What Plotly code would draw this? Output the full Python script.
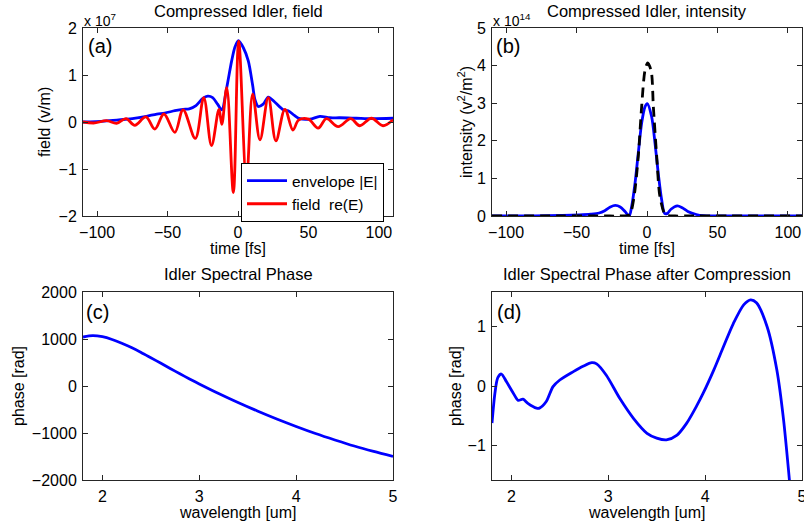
import plotly.graph_objects as go

# ---------------- data ----------------
# (a) field, units of 1e7 V/m
t_env = [-110, -95, -86, -75, -65, -57.6, -52, -44.8, -39, -34.6, -29.8, -25, -21.5, -18, -14.5,
         -11.5, -8, -4.5, -2.1, 0.3, 3.8, 7.3, 10.4, 12, 14.4, 17.9, 21.5, 26.2, 32.1, 35.6, 40,
         43.9, 51, 58.1, 65.2, 72.2, 84, 95.8, 110]
env = [0.0, 0.02, 0.04, 0.07, 0.12, 0.17, 0.19, 0.24, 0.27, 0.28, 0.35, 0.50, 0.55, 0.52, 0.38,
       0.26, 0.73, 1.30, 1.60, 1.73, 1.58, 1.30, 0.78, 0.48, 0.33, 0.38, 0.53, 0.42, 0.26, 0.24, 0.14,
       0.07, 0.06, 0.12, 0.09, 0.09, 0.08, 0.07, 0.08]

t_field = [-110, -101.6, -93.3, -86.2, -79.5, -73.2, -65.4, -59.0, -52.6, -44.8, -39.0, -30.3,
           -24.3, -18.8, -13.5, -11.5, -8.0, -3.3, 0.5, 6.0, 10.4, 15.6, 21.5, 26.9, 33.3, 39.0,
           43, 50, 56.9, 62.8, 71.1, 80.0, 86.4, 94.7, 102.9, 110]
field = [0.0, -0.02, 0.03, -0.03, 0.07, -0.07, 0.11, -0.15, 0.17, -0.22, 0.26, -0.35,
         0.52, -0.50, 0.27, -0.05, 0.73, -1.50, 1.72, -1.25, 0.59, -0.38, 0.52, -0.40, 0.27, -0.17,
         0.04, 0.06, -0.13, 0.07, -0.10, 0.07, -0.08, 0.08, -0.08, 0.05]

# (b) intensity, units of 1e14 V^2/m^2
t_int = [-110, -80, -60, -48, -40, -34, -30, -26, -22.5, -19, -15.6, -12.6, -10.9, -8.5, -6.2,
         -3.8, -1.4, 0.2, 3.3, 5.7, 8.0, 10.4, 12.5, 14.5, 17, 21.5, 25, 29, 35, 40, 50, 70, 110]
int_meas = [0.0, 0.005, 0.015, 0.03, 0.05, 0.08, 0.14, 0.24, 0.28, 0.24, 0.12, 0.0, 0.25, 0.87, 1.67,
            2.47, 2.91, 2.99, 2.64, 1.93, 1.13, 0.43, 0.07, 0.07, 0.18, 0.27, 0.22, 0.12, 0.04, 0.01,
            0.005, 0.0, 0.0]
t_tl = [-110, -60, -30, -20, -14, -12, -9.2, -6.2, -3.8, -1.4, 0.5, 3.0, 4.5, 6.9, 9.2, 12.8, 15,
        20, 30, 60, 110]
int_tl = [0, 0, 0, 0, 0.01, 0.05, 0.51, 1.58, 2.91, 3.88, 4.07, 3.85, 2.91, 1.58, 0.51, 0.04, 0.01,
          0, 0, 0, 0]

# (c) spectral phase, rad
wl_c = [1.8, 1.9, 2.0, 2.1, 2.2, 2.3, 2.4, 2.5, 2.6, 2.7, 2.8, 2.9, 3.0, 3.2, 3.4, 3.6, 3.8, 4.0,
        4.2, 4.4, 4.6, 4.8, 5.0]
phase_c = [1042, 1072, 1048, 990, 910, 818, 714, 602, 488, 373, 260, 150, 45, -159, -351, -531,
           -701, -861, -1011, -1148, -1277, -1393, -1500]

# (d) spectral phase after compression, rad
wl_d = [1.8, 1.83, 1.86, 1.897, 1.95, 2.02, 2.07, 2.12, 2.17, 2.26, 2.29, 2.36, 2.43, 2.5, 2.64,
        2.74, 2.83, 2.88, 2.98, 3.12, 3.26, 3.40, 3.5, 3.6, 3.71, 3.81, 3.91, 3.98, 4.09, 4.19,
        4.29, 4.4, 4.47, 4.53, 4.64, 4.74, 4.81, 4.87, 4.9]
phase_d = [-0.62, -0.12, 0.14, 0.20, 0.07, -0.12, -0.24, -0.22, -0.29, -0.37, -0.37, -0.26, -0.01,
           0.10, 0.24, 0.33, 0.39, 0.37, 0.18, -0.21, -0.54, -0.79, -0.87, -0.90, -0.82, -0.62,
           -0.34, -0.12, 0.27, 0.66, 1.04, 1.36, 1.44, 1.39, 0.99, 0.27, -0.57, -1.57, -2.1]

time_ticks = [-100, -50, 0, 50, 100]
wl_ticks = [2, 3, 4, 5]

# ---------------- figure ----------------
W, H = 804, 527
FONT = "Liberation Sans, Arial, Helvetica, sans-serif"
BLUE = "#0000FF"
RED = "#FF0000"
AX = "#262626"


def px_x(p):
    return p / W


def px_y(p):
    return 1 - p / H


xl = [px_x(83), px_x(393)]
xr = [px_x(492), px_x(802)]
yt = [px_y(216), px_y(28)]
yb = [px_y(480), px_y(292)]

fig = go.Figure()

fig.add_trace(go.Scatter(x=t_env, y=env, mode="lines", name="envelope |E|",
                         line=dict(color=BLUE, width=2.8, shape="spline", smoothing=0.8),
                         xaxis="x", yaxis="y"))
fig.add_trace(go.Scatter(x=t_field, y=field, mode="lines", name="field\u00a0 re(E)",
                         line=dict(color=RED, width=2.8, shape="spline", smoothing=1.0),
                         xaxis="x", yaxis="y"))
fig.add_trace(go.Scatter(x=t_int, y=int_meas, mode="lines", showlegend=False,
                         line=dict(color=BLUE, width=2.8, shape="spline", smoothing=0.8),
                         xaxis="x2", yaxis="y2"))
fig.add_trace(go.Scatter(x=t_tl, y=int_tl, mode="lines", showlegend=False,
                         line=dict(color="black", width=2.8, dash="10px,6px", shape="spline", smoothing=0.8),
                         xaxis="x2", yaxis="y2"))
fig.add_trace(go.Scatter(x=wl_c, y=phase_c, mode="lines", showlegend=False,
                         line=dict(color=BLUE, width=2.8, shape="spline", smoothing=0.8),
                         xaxis="x3", yaxis="y3"))
fig.add_trace(go.Scatter(x=wl_d, y=phase_d, mode="lines", showlegend=False,
                         line=dict(color=BLUE, width=2.8, shape="spline", smoothing=0.8),
                         xaxis="x4", yaxis="y4"))

axbase = dict(showline=True, linecolor=AX, linewidth=1, mirror="ticks", ticks="inside",
              ticklen=5, tickcolor=AX, tickwidth=1, showgrid=False, zeroline=False,
              tickfont=dict(family=FONT, size=16, color="black"), automargin=False,
              ticklabelstandoff=2)

fig.update_layout(
    width=W, height=H,
    margin=dict(l=0, r=0, t=0, b=0),
    paper_bgcolor="white", plot_bgcolor="white",
    font=dict(family=FONT, size=16, color="black"),
    showlegend=True,
    legend=dict(x=px_x(241), y=px_y(163), xanchor="left", yanchor="top",
                bordercolor="black", borderwidth=1, bgcolor="white", itemwidth=40,
                font=dict(family=FONT, size=15.5, color="black"), tracegroupgap=0),
    xaxis=dict(axbase, domain=xl, anchor="y", range=[-110, 110], tickvals=time_ticks),
    yaxis=dict(axbase, domain=yt, anchor="x", range=[-2, 2], tickvals=[-2, -1, 0, 1, 2]),
    xaxis2=dict(axbase, domain=xr, anchor="y2", range=[-110, 110], tickvals=time_ticks,
                ticklabeloverflow="allow"),
    yaxis2=dict(axbase, domain=yt, anchor="x2", range=[0, 5], tickvals=[0, 1, 2, 3, 4, 5]),
    xaxis3=dict(axbase, domain=xl, anchor="y3", range=[1.8, 5], tickvals=wl_ticks),
    yaxis3=dict(axbase, domain=yb, anchor="x3", range=[-2000, 2000],
                tickvals=[-2000, -1000, 0, 1000, 2000]),
    xaxis4=dict(axbase, domain=xr, anchor="y4", range=[1.8, 5], tickvals=wl_ticks,
                ticklabeloverflow="allow"),
    yaxis4=dict(axbase, domain=yb, anchor="x4", range=[-1.5708, 1.5708], tickvals=[-1, 0, 1]),
)

ann = []


def text(x, y, s, size=16, xanchor="center", yanchor="middle", angle=0):
    ann.append(dict(x=px_x(x), y=px_y(y), xref="paper", yref="paper", text=s, showarrow=False,
                    xanchor=xanchor, yanchor=yanchor, textangle=angle,
                    font=dict(family=FONT, size=size, color="black")))


# titles
text(238, 11, "Compressed Idler, field", size=16.5)
text(647, 11, "Compressed Idler, intensity", size=16.5)
text(238, 274, "Idler Spectral Phase", size=16.5)
text(647, 274, "Idler Spectral Phase after Compression", size=16.5)
# axis titles
text(238, 248, "time [fs]")
text(647, 248, "time [fs]")
text(238, 512, "wavelength [um]")
text(647, 512, "wavelength [um]")
text(45, 122, "field (v/m)", angle=-90)
text(465, 122, "intensity (v<sup>2</sup>/m<sup>2</sup>)", angle=-90)
text(18, 386, "phase [rad]", angle=-90)
text(455, 386, "phase [rad]", angle=-90)
# exponent labels
text(82, 31, "x 10<sup>7</sup>", size=14, xanchor="left", yanchor="bottom")
text(491, 31, "x 10<sup>14</sup>", size=14, xanchor="left", yanchor="bottom")
# panel labels
text(86, 46, "(a)", size=20, xanchor="left")
text(494, 46, "(b)", size=20, xanchor="left")
text(84, 312, "(c)", size=20, xanchor="left")
text(495, 312, "(d)", size=20, xanchor="left")

fig.update_layout(annotations=ann)

fig.write_html("out.html", config={"displayModeBar": False, "staticPlot": True},
               post_script="document.body.style.margin='0';document.body.style.overflow='hidden';")
